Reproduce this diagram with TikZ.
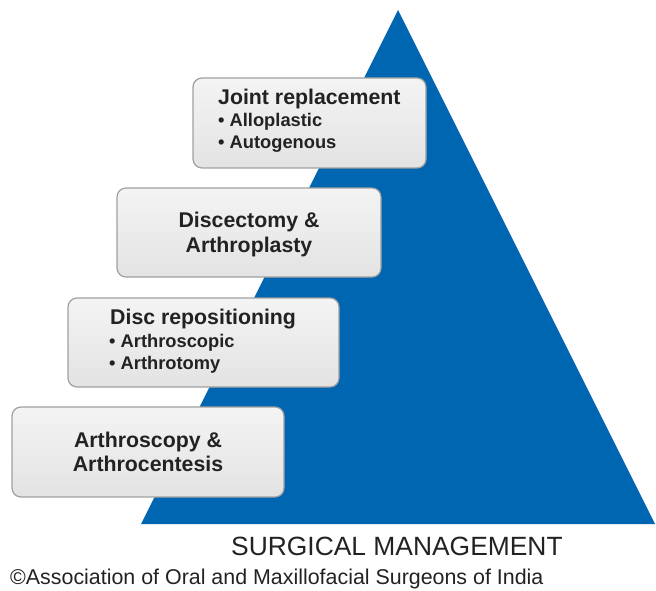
\documentclass[tikz,border=0pt]{standalone}
\usepackage{fontspec}
\setmainfont{Liberation Sans}
\definecolor{pyrblue}{HTML}{0066B1}
\definecolor{boxedge}{HTML}{A0A0A0}
\definecolor{txtcol}{HTML}{222222}
\tikzset{
  box/.style={draw=boxedge, line width=1.2pt, rounded corners=9pt, top color=gray!9, bottom color=gray!22, inner sep=0pt},
  ttl/.style={font=\bfseries\fontsize{21.3}{24}\selectfont, text=txtcol, inner sep=0pt},
  bul/.style={font=\bfseries\fontsize{18.3}{22}\selectfont, text=txtcol, inner sep=0pt, anchor=base west},
  captxt/.style={text=txtcol, inner sep=0pt, anchor=base west},
}
\begin{document}
\begin{tikzpicture}[x=1pt,y=-1pt]
\useasboundingbox (0,0) rectangle (656,591);
% pyramid
\fill[pyrblue] (141,524) -- (398,10) -- (655,524) -- cycle;
% boxes
\node[box, minimum width=233pt, minimum height=90pt] (b1) at (309.5,123) {};
\node[box, minimum width=264pt, minimum height=89pt] (b2) at (249,232.5) {};
\node[box, minimum width=271pt, minimum height=89pt] (b3) at (203.5,342.5) {};
\node[box, minimum width=272pt, minimum height=90pt] (b4) at (148,452) {};
% box 1 text
\node[ttl, anchor=base west] (t1) at (218,105) {Joint replacement};
\node[bul] (t1a) at (218,127) {• Alloplastic};
\node[bul] (t1b) at (218,149) {• Autogenous};
% box 2 text
\node[ttl, anchor=base] (t2a) at (249,227) {Discectomy \&};
\node[ttl, anchor=base] (t2b) at (249,252) {Arthroplasty};
% box 3 text
\node[ttl, anchor=base west] (t3) at (110,324) {Disc repositioning};
\node[bul] (t3a) at (109,347) {• Arthroscopic};
\node[bul] (t3b) at (109,369) {• Arthrotomy};
% box 4 text
\node[ttl, anchor=base] (t4a) at (148,447) {Arthroscopy \&};
\node[ttl, anchor=base] (t4b) at (148,471) {Arthrocentesis};
% captions
\node[captxt, font=\fontsize{26.4}{30}\selectfont] (c1) at (231,555) {SURGICAL MANAGEMENT};
\node[captxt, font=\fontsize{21.4}{25}\selectfont] (c2) at (10,584) {©Association of Oral and Maxillofacial Surgeons of India};
\end{tikzpicture}
\end{document}
